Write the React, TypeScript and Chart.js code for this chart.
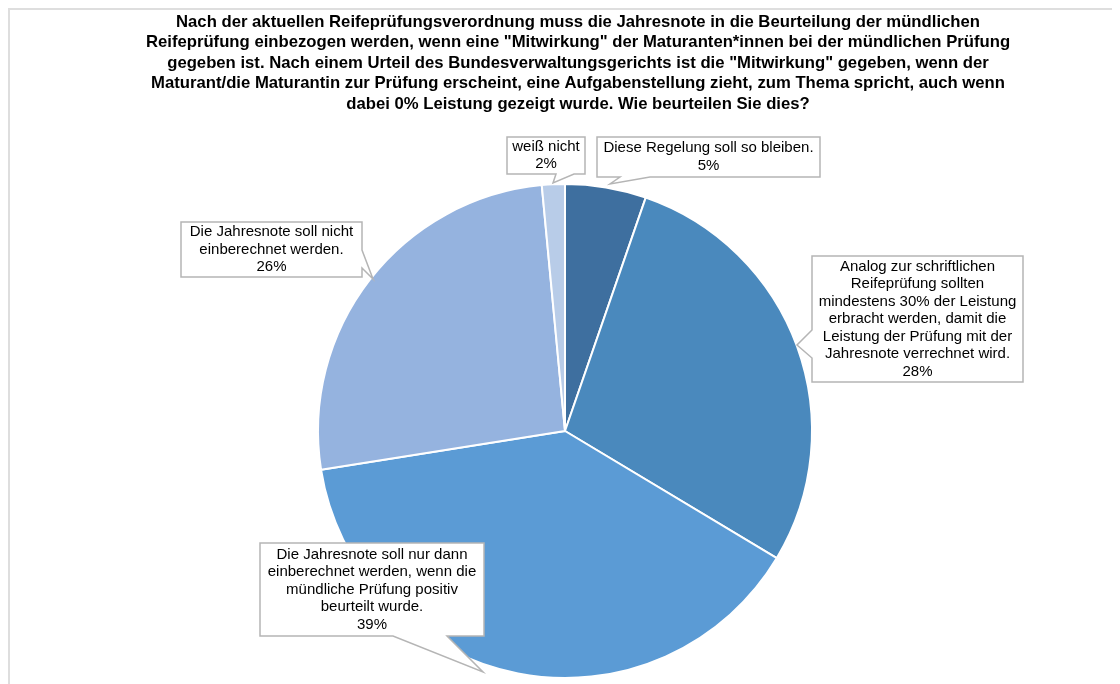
import React, { useEffect, useRef } from "react";
import { Chart, registerables } from "chart.js";

Chart.register(...registerables);

const TITLE_LINES = [
  "Nach der aktuellen Reifeprüfungsverordnung muss die Jahresnote in die Beurteilung der mündlichen",
  "Reifeprüfung einbezogen werden, wenn eine \"Mitwirkung\" der Maturanten*innen bei der mündlichen Prüfung",
  "gegeben ist. Nach einem Urteil des Bundesverwaltungsgerichts ist die \"Mitwirkung\" gegeben, wenn der",
  "Maturant/die Maturantin zur Prüfung erscheint, eine Aufgabenstellung zieht, zum Thema spricht, auch wenn",
  "dabei 0% Leistung gezeigt wurde. Wie beurteilen Sie dies?",
];

const CATEGORIES: string[][] = [
  ["Diese Regelung soll so bleiben."],
  [
    "Analog zur schriftlichen",
    "Reifeprüfung sollten",
    "mindestens 30% der Leistung",
    "erbracht werden, damit die",
    "Leistung der Prüfung mit der",
    "Jahresnote verrechnet wird.",
  ],
  [
    "Die Jahresnote soll nur dann",
    "einberechnet werden, wenn die",
    "mündliche Prüfung positiv",
    "beurteilt wurde.",
  ],
  ["Die Jahresnote soll nicht", "einberechnet werden."],
  ["weiß nicht"],
];

const VALUES = [5.3, 28.3, 38.9, 26.0, 1.5];

const COLORS = ["#3E6F9F", "#4A89BD", "#5B9BD5", "#95B3DF", "#B8CCE8"];

// Callout geometry in page coordinates (canvas origin is at page 10,10)
const OFF = 10;
type Callout = {
  x: number; y: number; w: number; h: number;
  edge: "left" | "right" | "bottom";
  b1: number; b2: number; tip: [number, number];
};
const CALLOUTS: Callout[] = [
  { x: 597, y: 137, w: 223, h: 40, edge: "bottom", b1: 620, b2: 650, tip: [610, 184] },
  { x: 812, y: 256, w: 211, h: 126, edge: "left", b1: 330, b2: 358, tip: [797, 345] },
  { x: 260, y: 543, w: 224, h: 93, edge: "bottom", b1: 393, b2: 447, tip: [483, 672] },
  { x: 181, y: 222, w: 181, h: 55, edge: "right", b1: 250, b2: 268, tip: [373, 279] },
  { x: 507, y: 137, w: 78, h: 37, edge: "bottom", b1: 556, b2: 574, tip: [553, 183] },
];

const FONT = "'Liberation Sans', Arial, Helvetica, sans-serif";

const overlayPlugin = {
  id: "overlay",
  afterDraw(chart: any) {
    const ctx = chart.ctx as CanvasRenderingContext2D;
    ctx.save();
    // title
    ctx.fillStyle = "#000000";
    ctx.font = `bold 16.7px ${FONT}`;
    ctx.textAlign = "center";
    ctx.textBaseline = "middle";
    TITLE_LINES.forEach((line, i) => {
      ctx.fillText(line, 578 - OFF, 22 - OFF + i * 20.5);
    });

    // callouts
    CALLOUTS.forEach((c0, idx) => {
      const x = c0.x - OFF, y = c0.y - OFF, w = c0.w, h = c0.h;
      const b1 = c0.b1 - OFF, b2 = c0.b2 - OFF;
      const tip = [c0.tip[0] - OFF, c0.tip[1] - OFF];
      ctx.beginPath();
      ctx.moveTo(x, y);
      ctx.lineTo(x + w, y);
      if (c0.edge === "right") {
        ctx.lineTo(x + w, b1);
        ctx.lineTo(tip[0], tip[1]);
        ctx.lineTo(x + w, b2);
      }
      ctx.lineTo(x + w, y + h);
      if (c0.edge === "bottom") {
        ctx.lineTo(b2, y + h);
        ctx.lineTo(tip[0], tip[1]);
        ctx.lineTo(b1, y + h);
      }
      ctx.lineTo(x, y + h);
      if (c0.edge === "left") {
        ctx.lineTo(x, b2);
        ctx.lineTo(tip[0], tip[1]);
        ctx.lineTo(x, b1);
      }
      ctx.closePath();
      ctx.fillStyle = "#ffffff";
      ctx.fill();
      ctx.strokeStyle = "#b5b5b5";
      ctx.lineWidth = 1.5;
      ctx.stroke();

      const lines = [...CATEGORIES[idx], `${Math.round(VALUES[idx])}%`];
      const lh = 17.5;
      const cy = y + h / 2;
      ctx.fillStyle = "#000000";
      ctx.font = `15px ${FONT}`;
      ctx.textAlign = "center";
      ctx.textBaseline = "middle";
      lines.forEach((t, i) => {
        ctx.fillText(t, x + w / 2, cy + (i - (lines.length - 1) / 2) * lh);
      });
    });
    ctx.restore();
  },
};

export default function App() {
  const ref = useRef<HTMLCanvasElement | null>(null);

  useEffect(() => {
    if (!ref.current) return;
    const chart = new Chart(ref.current, {
      type: "pie",
      data: {
        labels: CATEGORIES.map((l) => l.join(" ")),
        datasets: [
          {
            data: VALUES,
            backgroundColor: COLORS,
            borderColor: "#ffffff",
            borderWidth: 2,
          },
        ],
      },
      options: {
        animation: false,
        responsive: false,
        layout: { padding: { top: 173, bottom: 5, left: 300, right: 300 } },
        plugins: {
          legend: { display: false },
          tooltip: { enabled: false },
          title: { display: false },
        },
      },
      plugins: [overlayPlugin],
    });
    return () => chart.destroy();
  }, []);

  return (
    <div
      style={{
        width: 1112,
        height: 676,
        boxSizing: "border-box",
        borderTop: "2px solid #dedede",
        borderLeft: "2px solid #dedede",
        background: "#ffffff",
      }}
    >
      <canvas ref={ref} width={1110} height={674} style={{ display: "block" }} />
    </div>
  );
}
